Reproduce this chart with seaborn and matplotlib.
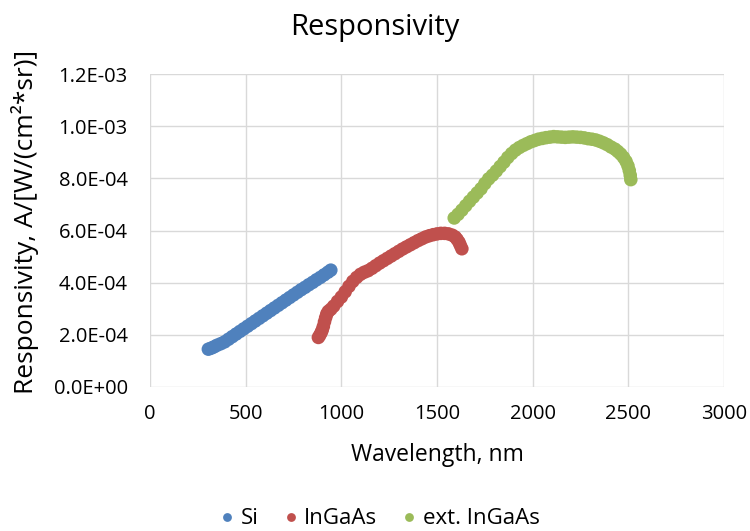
import matplotlib
matplotlib.use("Agg")
import matplotlib.pyplot as plt
import matplotlib.ticker as mticker
import seaborn as sns
import pandas as pd

# ---------------- data ----------------
series_names = ["Si", "InGaAs", "ext. InGaAs"]

si_wl = [305, 320, 335, 350, 370, 390, 410, 430, 450, 470, 490, 510, 530, 550, 570,
         590, 610, 630, 650, 670, 690, 710, 730, 750, 770, 790, 810, 830, 850,
         870, 890, 910, 930, 945]
si_resp = [1.45, 1.49, 1.54, 1.60, 1.66, 1.73, 1.83, 1.93, 2.03, 2.13, 2.23, 2.33, 2.43,
           2.53, 2.63, 2.73, 2.83, 2.93, 3.03, 3.13, 3.23, 3.33, 3.43, 3.53, 3.63,
           3.73, 3.82, 3.92, 4.01, 4.11, 4.20, 4.30, 4.40, 4.48]

ingaas_wl = [880, 887, 894, 900, 906, 912, 918, 924, 932, 945, 960, 980, 1000, 1020,
             1040, 1060, 1080, 1100, 1120, 1140, 1160, 1180, 1200, 1220, 1240, 1260,
             1280, 1300, 1320, 1340, 1360, 1380, 1400, 1420, 1440, 1460, 1480, 1500,
             1520, 1540, 1560, 1580, 1595, 1605, 1615, 1622, 1630]
ingaas_resp = [1.90, 1.98, 2.08, 2.18, 2.32, 2.50, 2.66, 2.80, 2.90, 2.98, 3.10,
               3.28, 3.45, 3.65, 3.86, 4.05, 4.20, 4.32, 4.40, 4.46, 4.55, 4.65,
               4.75, 4.84, 4.93, 5.02, 5.11, 5.20, 5.29, 5.37, 5.45, 5.53, 5.61,
               5.68, 5.75, 5.80, 5.84, 5.87, 5.89, 5.89, 5.87, 5.82, 5.75, 5.66,
               5.55, 5.43, 5.30]

ext_wl = [1590, 1610, 1630, 1650, 1670, 1690, 1710, 1730, 1750, 1770, 1790, 1810,
          1830, 1850, 1870, 1890, 1910, 1930, 1950, 1970, 1990, 2010, 2030, 2050,
          2070, 2090, 2110, 2130, 2150, 2170, 2190, 2210, 2230, 2250, 2270, 2290,
          2310, 2330, 2350, 2370, 2390, 2410, 2430, 2445, 2460, 2475, 2488, 2498,
          2505, 2510, 2513]
ext_resp = [6.48, 6.62, 6.78, 6.95, 7.12, 7.28, 7.44, 7.60, 7.80, 7.98, 8.12, 8.28,
            8.45, 8.62, 8.80, 8.95, 9.08, 9.18, 9.26, 9.33, 9.40, 9.45, 9.50, 9.53,
            9.56, 9.58, 9.60, 9.59, 9.58, 9.57, 9.58, 9.59, 9.58, 9.57, 9.55, 9.52,
            9.50, 9.47, 9.42, 9.36, 9.29, 9.20, 9.12, 9.03, 8.93, 8.80, 8.65, 8.48,
            8.30, 8.12, 7.95]
resp_scale = 1e-4  # values above are in units of 1E-04

x_ticks = [0, 500, 1000, 1500, 2000, 2500, 3000]
y_ticks = [0.0, 2e-4, 4e-4, 6e-4, 8e-4, 1.0e-3, 1.2e-3]

colors = {"Si": "#4F81BD", "InGaAs": "#C0504D", "ext. InGaAs": "#9BBB59"}

# ---------------- build table ----------------
frames = []
for name, wl, rs in [("Si", si_wl, si_resp), ("InGaAs", ingaas_wl, ingaas_resp),
                     ("ext. InGaAs", ext_wl, ext_resp)]:
    frames.append(pd.DataFrame({"Wavelength": wl,
                                "Responsivity": [v * resp_scale for v in rs],
                                "Series": name}))
df = pd.concat(frames, ignore_index=True)

# ---------------- plot ----------------
sns.set_style("white")
plt.rcParams["font.family"] = ["Open Sans", "DejaVu Sans"]
plt.rcParams["text.color"] = "black"

W, H = 750, 531
fig = plt.figure(figsize=(W / 100, H / 100), dpi=100)
ax = fig.add_axes([150 / W, 1 - 387 / H, (724 - 150) / W, (387 - 74) / H])

sns.scatterplot(data=df, x="Wavelength", y="Responsivity", hue="Series",
                hue_order=series_names, palette=colors, s=95, linewidth=0,
                alpha=1, ax=ax, zorder=3)

ax.set_xlim(0, 3000)
ax.set_ylim(0, 1.2e-3)
ax.set_xticks(x_ticks)
ax.set_yticks(y_ticks)
ax.yaxis.set_major_formatter(mticker.FuncFormatter(lambda v, _: f"{v:.1E}"))
ax.grid(True, color="#D9D9D9", linewidth=1.0, zorder=0)
ax.set_axisbelow(True)
for sp in ax.spines.values():
    sp.set_visible(False)
ax.tick_params(axis="both", length=0, labelsize=14.5, labelcolor="black")
ax.tick_params(axis="y", pad=16)
ax.tick_params(axis="x", pad=12)

ax.set_xlabel("Wavelength, nm", fontsize=16.5, color="black")
ax.xaxis.label.set_va("center")
ax.xaxis.set_label_coords(0.5, (387 - 455) / (387 - 74))
ax.set_ylabel("Responsivity, A/[W/(cm²*sr)]", fontsize=19, color="black")
ax.yaxis.label.set_va("center")
ax.yaxis.set_label_coords((25 - 150) / (724 - 150), (387 - 222) / (387 - 74))

fig.text(0.5, 1 - 27 / H, "Responsivity", ha="center", va="center",
         fontsize=21, color="black")

sns.move_legend(ax, "center", bbox_to_anchor=((379 - 150) / 574, (387 - 519) / 313),
                ncol=3, frameon=False, title=None, fontsize=16, markerscale=0.65,
                handlelength=0.8, handletextpad=0.2, columnspacing=1.05,
                labelcolor="black")

fig.savefig("out.png", dpi=100)
